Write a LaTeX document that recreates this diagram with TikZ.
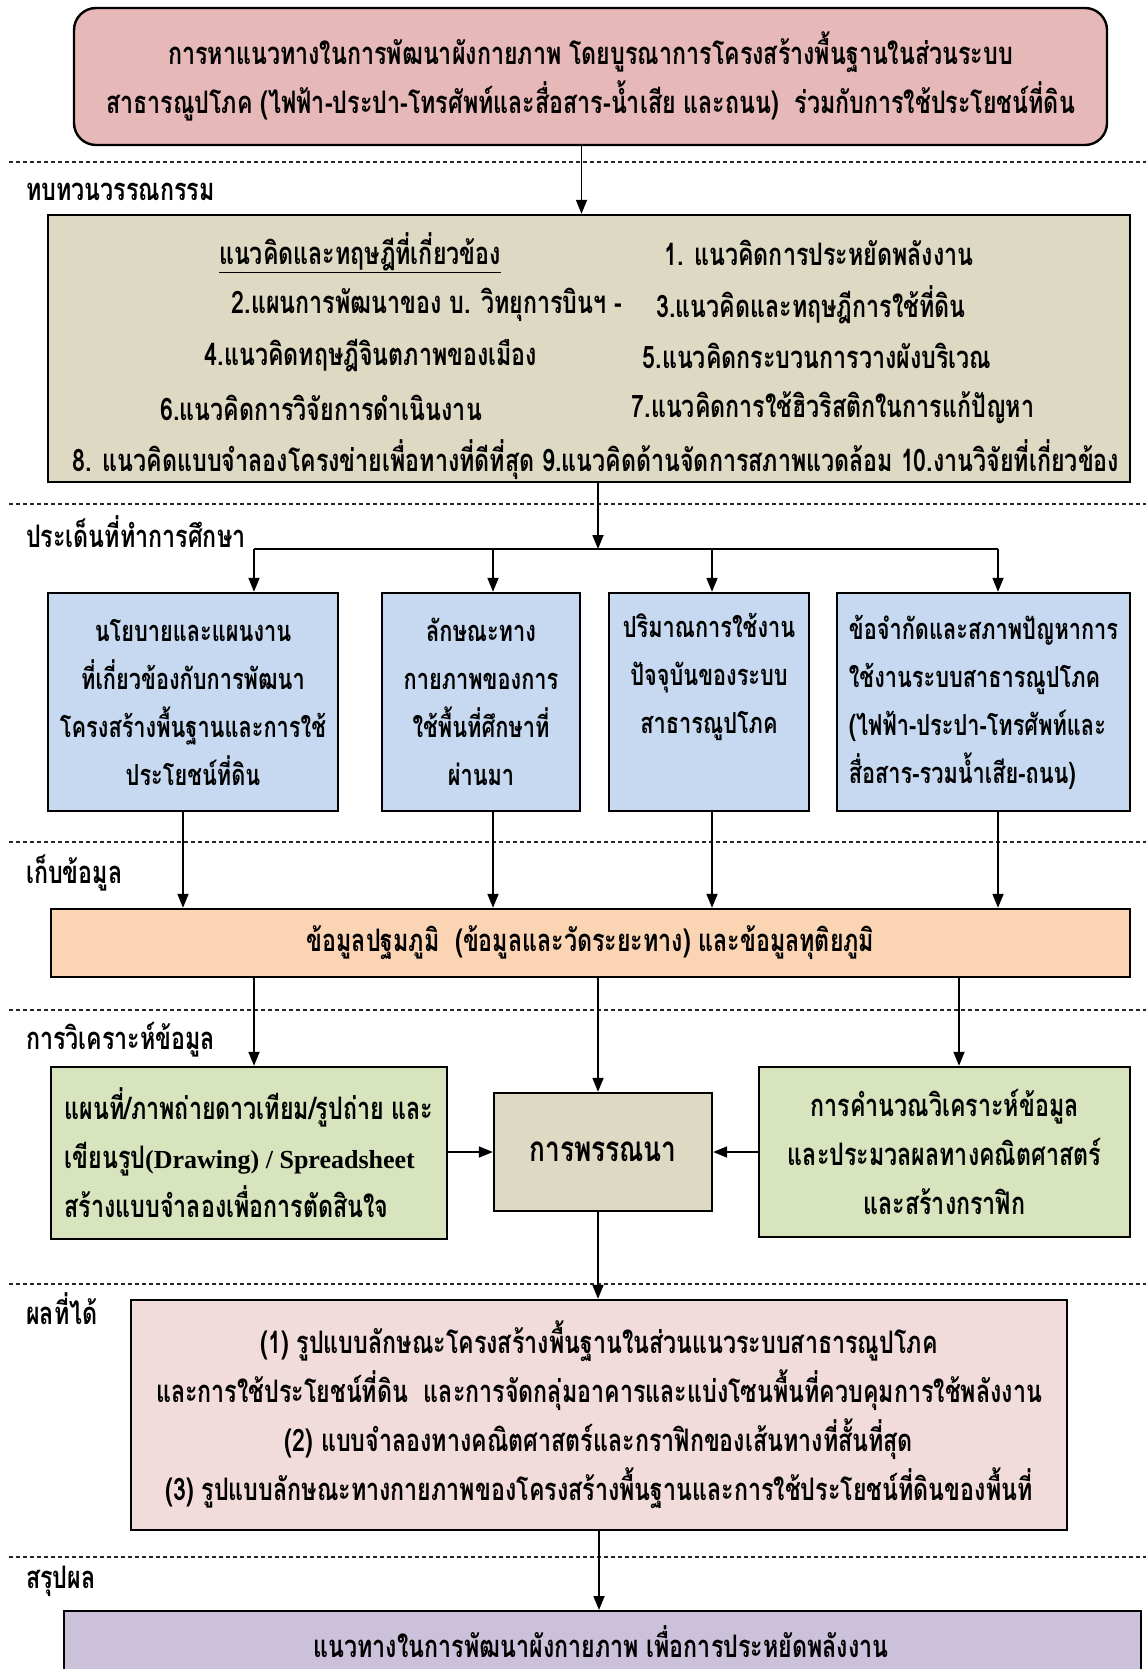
\documentclass[tikz,border=0pt]{standalone}
\usepackage{fontspec}
\newfontfamily\thaifont[Script=Thai,FakeStretch=0.75]{Loma}
\newfontfamily\latinfont{Liberation Serif}
\usetikzlibrary{arrows.meta}

\definecolor{cTop}{HTML}{E6B8B7}
\definecolor{cLit}{HTML}{DDD9C3}
\definecolor{cBlue}{HTML}{C6D9F1}
\definecolor{cOrange}{HTML}{FBD4B4}
\definecolor{cGreen}{HTML}{D7E4BD}
\definecolor{cRes}{HTML}{F2DCDB}
\definecolor{cSum}{HTML}{CCC1DA}

\newcommand\boxfont{\thaifont\bfseries\fontsize{31}{49}\selectfont}
\newcommand\issuefont{\thaifont\bfseries\fontsize{29}{48}\selectfont}
\newcommand\stagefont{\thaifont\bfseries\fontsize{31}{36}\selectfont}
\newcommand\lat[1]{{\latinfont\bfseries\fontsize{26}{49}\selectfont #1}}

\tikzset{
  box/.style={draw=black, line width=2.4pt, inner sep=0pt, font=\boxfont},
  issue/.style={box, fill=cBlue, minimum height=218pt, font=\issuefont},
  txt/.style={font=\boxfont, inner sep=0pt},
  stage/.style={font=\stagefont, anchor=west, inner sep=0pt},
  arr/.style={-{Triangle[length=14pt,width=11pt]}, line width=1.8pt},
  sep/.style={dash pattern=on 4pt off 3pt, line width=1.2pt, draw=black!85},
}

\begin{document}
\begin{tikzpicture}[x=1pt,y=-1pt]
\clip (0,0) rectangle (1146,1669);
\fill[white] (0,0) rectangle (1146,1669);

% stage separators
\foreach \yy in {162,504,842,1010,1284,1557}
  \draw[sep] (9,\yy) -- (1146,\yy);

% stage labels
\node[stage] (s-lit) at (26,192) {ทบทวนวรรณกรรม};
\node[stage] (s-iss) at (26,532) {ประเด็นที่ทำการศึกษา};
\node[stage] (s-col) at (26,873) {เก็บข้อมูล};
\node[stage] (s-ana) at (26,1040) {การวิเคราะห์ข้อมูล};
\node[stage] (s-res) at (26,1309) {ผลที่ได้};
\node[stage] (s-sum) at (26,1581) {สรุปผล};

% title
\node[box, fill=cTop, rounded corners=22pt, minimum width=1033pt, minimum height=137pt, align=center]
  (top) at (590.5,76.5)
  {การหาแนวทางในการพัฒนาผังกายภาพ โดยบูรณาการโครงสร้างพื้นฐานในส่วนระบบ\\
   สาธารณูปโภค (ไฟฟ้า-ประปา-โทรศัพท์และสื่อสาร-น้ำเสีย และถนน)\ \ ร่วมกับการใช้ประโยชน์ที่ดิน};

% literature review
\node[box, fill=cLit, minimum width=1082pt, minimum height=267pt] (lit) at (589,348.5) {};
\node[txt] (l1a) at (360,253) {\underline{แนวคิดและทฤษฎีที่เกี่ยวข้อง}};
\node[txt] (l1b) at (819,253) {1. แนวคิดการประหยัดพลังงาน};
\node[txt] (l2a) at (427,305) {2.แผนการพัฒนาของ บ. วิทยุการบินฯ -};
\node[txt] (l2b) at (811,305) {3.แนวคิดและทฤษฎีการใช้ที่ดิน};
\node[txt] (l3a) at (371,356) {4.แนวคิดทฤษฎีจินตภาพของเมือง};
\node[txt] (l3b) at (817,356) {5.แนวคิดกระบวนการวางผังบริเวณ};
\node[txt] (l4a) at (321,408) {6.แนวคิดการวิจัยการดำเนินงาน};
\node[txt] (l4b) at (833,408) {7.แนวคิดการใช้ฮิวริสติกในการแก้ปัญหา};
\node[txt] (l5) at (596,460) {8. แนวคิดแบบจำลองโครงข่ายเพื่อทางที่ดีที่สุด 9.แนวคิดด้านจัดการสภาพแวดล้อม 10.งานวิจัยที่เกี่ยวข้อง};

% study issues
\node[issue, minimum width=290pt, align=center] (b1) at (193,702)
  {นโยบายและแผนงาน\\ที่เกี่ยวข้องกับการพัฒนา\\โครงสร้างพื้นฐานและการใช้\\ประโยชน์ที่ดิน};
\node[issue, minimum width=198pt, align=center] (b2) at (481,702)
  {ลักษณะทาง\\กายภาพของการ\\ใช้พื้นที่ศึกษาที่\\ผ่านมา};
\node[issue, minimum width=200pt] (b3) at (709,702) {};
\node[txt, font=\issuefont, align=center] (b3t) at (709,677) {ปริมาณการใช้งาน\\ปัจจุบันของระบบ\\สาธารณูปโภค};
\node[issue, minimum width=293pt, align=left] (b4) at (983.5,702)
  {ข้อจำกัดและสภาพปัญหาการ\\ใช้งานระบบสาธารณูปโภค\\(ไฟฟ้า-ประปา-โทรศัพท์และ\\สื่อสาร-รวมน้ำเสีย-ถนน)};

% data collection
\node[box, fill=cOrange, minimum width=1079pt, minimum height=68pt] (ora) at (590.5,943)
  {ข้อมูลปฐมภูมิ\ \ (ข้อมูลและวัดระยะทาง) และข้อมูลทุติยภูมิ};

% analysis
\node[box, fill=cGreen, minimum width=396pt, minimum height=172pt, align=left] (gl) at (249,1153)
  {แผนที่/ภาพถ่ายดาวเทียม/รูปถ่าย และ\\เขียนรูป\lat{(Drawing) / Spreadsheet}\\สร้างแบบจำลองเพื่อการตัดสินใจ};
\node[box, fill=cLit, minimum width=218pt, minimum height=118pt, font=\thaifont\bfseries\fontsize{35}{40}\selectfont] (ctr) at (603,1152)
  {การพรรณนา};
\node[box, fill=cGreen, minimum width=371pt, minimum height=170pt, align=center] (gr) at (944.5,1152)
  {การคำนวณวิเคราะห์ข้อมูล\\และประมวลผลทางคณิตศาสตร์\\และสร้างกราฟิก};

% results
\node[box, fill=cRes, minimum width=936pt, minimum height=230pt, align=center] (res) at (599,1415)
  {(1) รูปแบบลักษณะโครงสร้างพื้นฐานในส่วนแนวระบบสาธารณูปโภค\\
   และการใช้ประโยชน์ที่ดิน\ \ และการจัดกลุ่มอาคารและแบ่งโซนพื้นที่ควบคุมการใช้พลังงาน\\
   (2) แบบจำลองทางคณิตศาสตร์และกราฟิกของเส้นทางที่สั้นที่สุด\\
   (3) รูปแบบลักษณะทางกายภาพของโครงสร้างพื้นฐานและการใช้ประโยชน์ที่ดินของพื้นที่};

% conclusion (runs past the lower edge)
\node[box, fill=cSum, minimum width=1077pt, minimum height=150pt, anchor=north] (sum) at (602.5,1610) {};
\node[txt] (sumt) at (601,1642) {แนวทางในการพัฒนาผังกายภาพ เพื่อการประหยัดพลังงาน};

% connectors
\draw[arr] ([xshift=-9pt]top.south) -- ([xshift=-9pt]top.south |- lit.north);

\coordinate (sp) at ([xshift=9pt]lit.south |- 0,549);
\coordinate (s1) at (254,549);
\coordinate (s2) at (493,549);
\coordinate (s3) at (712,549);
\coordinate (s4) at (998,549);
\draw[arr] ([xshift=9pt]lit.south) -- (sp);
\draw[line width=1.8pt] (s1) -- (s4);
\foreach \i in {1,2,3,4}
  \draw[arr] (s\i) -- (s\i |- b\i.north);

\coordinate (d1) at ([xshift=-10pt]b1.south);
\coordinate (d2) at ([xshift=12pt]b2.south);
\coordinate (d3) at ([xshift=3pt]b3.south);
\coordinate (d4) at ([xshift=14.5pt]b4.south);
\foreach \i in {1,2,3,4}
  \draw[arr] (d\i) -- (d\i |- ora.north);

\coordinate (e1) at ([xshift=5pt]gl.north);
\coordinate (e2) at ([xshift=-5pt]ctr.north);
\coordinate (e3) at ([xshift=14.5pt]gr.north);
\foreach \i in {1,2,3}
  \draw[arr] (e\i |- ora.south) -- (e\i);

\draw[arr] (gl.east |- ctr.west) -- (ctr.west);
\draw[arr] (gr.west |- ctr.east) -- (ctr.east);

\draw[arr] ([xshift=-5pt]ctr.south) -- ([xshift=-5pt]ctr.south |- res.north);
\draw[arr] (res.south) -- (res.south |- sum.north);
\end{tikzpicture}
\end{document}
